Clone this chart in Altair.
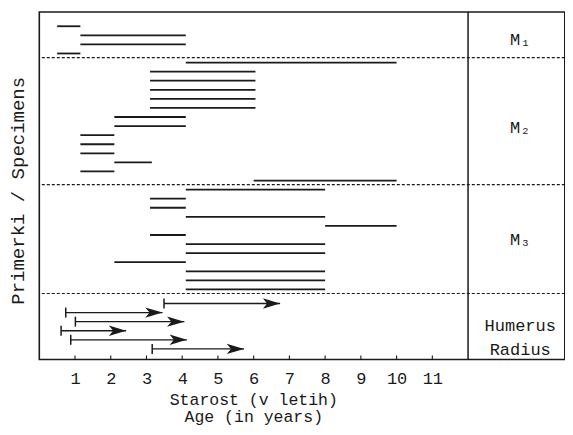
import altair as alt
import pandas as pd

# ---- data (ages in years) ----
m1_start = [0.5, 1.15, 1.15, 0.5]
m1_end = [1.15, 4.1, 4.1, 1.15]
m2_start = [4.1, 3.1, 3.1, 3.1, 3.1, 3.1, 2.1, 2.1, 1.15, 1.15, 1.15, 2.1, 1.15, 6.0]
m2_end = [10.0, 6.05, 6.05, 6.05, 6.05, 6.05, 4.1, 4.1, 2.1, 2.1, 2.1, 3.15, 2.1, 10.0]
m3_start = [4.1, 3.1, 3.1, 4.1, 8.0, 3.1, 4.1, 4.1, 2.1, 4.1, 4.1, 4.1]
m3_end = [8.0, 4.1, 4.1, 8.0, 10.0, 4.1, 8.0, 8.0, 4.1, 8.0, 8.0, 8.0]
bone_start = [3.49, 0.74, 1.01, 0.61, 0.88, 3.16]
bone_min_age = [6.74, 3.45, 4.06, 2.43, 4.13, 5.73]
group_labels = ["M\u2081", "M\u2082", "M\u2083", "Humerus\nRadius"]
tick_values = list(range(1, 12))
x_title = ["Starost (v letih)", "Age (in years)"]
y_title = "Primerki / Specimens"

# ---- layout ----
FONT = "Liberation Mono"
INK = "#1a1a1a"
PX_PER_YEAR = 35.73
W, H = 525.5, 347.5
X_MAX = W / PX_PER_YEAR
PANEL = 12
LABEL_X = 13.46
ARROW_GAP = 0.55
LABEL_SHIFT = [0.0, 0.75, 0.0, -0.05]

seg_rows, sep_rows, lab_rows = [], [], []
r = 0
for gi, (s_list, e_list) in enumerate([(m1_start, m1_end), (m2_start, m2_end), (m3_start, m3_end)]):
    first = r
    for s, e in zip(s_list, e_list):
        seg_rows.append({"row": r, "start": s, "end": e})
        r += 1
    sep_rows.append({"sep": r - 1 + 0.45})
    lab_rows.append({"lab": group_labels[gi], "row": (first + r - 1) / 2 + LABEL_SHIFT[gi],
                     "lx": LABEL_X})
arrow_rows = []
base = r + ARROW_GAP
for k, (s, e) in enumerate(zip(bone_start, bone_min_age)):
    arrow_rows.append({"row": base + k, "start": s, "end": e})
lab_rows.append({"lab": group_labels[3], "row": base + (len(bone_start) - 1) / 2 + LABEL_SHIFT[3],
                 "lx": LABEL_X})

seg_df = pd.DataFrame(seg_rows)
arrow_df = pd.DataFrame(arrow_rows)
sep_df = pd.DataFrame(sep_rows)
lab_df = pd.DataFrame(lab_rows)
tick_df = pd.DataFrame({"t": tick_values})
panel_df = pd.DataFrame({"v": [PANEL]})

xscale = alt.Scale(domain=[0, X_MAX], nice=False, zero=False)
yscale = alt.Scale(domain=[-1.57, 36.72], nice=False, zero=False, reverse=True)
xaxis = alt.Axis(values=tick_values, grid=False, domain=False, ticks=False, tickSize=0,
                 labelFont=FONT, labelFontSize=17, labelColor=INK, labelPadding=23.8,
                 labelBaseline="alphabetic", labelOverlap=False, labelFlush=False,
                 titleFont=FONT, titleFontSize=16.5, titleFontWeight="normal", titleColor=INK,
                 titleLineHeight=17.3, titleX=214, titleY=45, titleBaseline="alphabetic",
                 titleAlign="center")
yaxis = alt.Axis(labels=False, ticks=False, domain=False, grid=False,
                 titleFont=FONT, titleFontSize=19, titleFontWeight="normal", titleColor=INK,
                 titleX=-16, titleY=178.3, titleBaseline="alphabetic", titleAlign="center",
                 titleAngle=270)


def X(f):
    return alt.X(f, type="quantitative", scale=xscale, axis=xaxis, title=x_title)


def Y(f):
    return alt.Y(f, type="quantitative", scale=yscale, axis=yaxis, title=y_title)


segments = alt.Chart(seg_df).mark_rule(strokeWidth=1.8, color=INK).encode(
    x=X("start"), x2="end", y=Y("row"))

separators = alt.Chart(sep_df).mark_rule(strokeDash=[3, 2], strokeWidth=1.2, color=INK).encode(
    y=Y("sep"))

panel_line = alt.Chart(panel_df).mark_rule(strokeWidth=1.5, color=INK).encode(x=X("v"))

inner_ticks = alt.Chart(tick_df).mark_rule(strokeWidth=1.1, color=INK).encode(
    x=X("t"), y=alt.value(H), y2=alt.value(H - 4))

shafts = alt.Chart(arrow_df).mark_rule(strokeWidth=1.3, color=INK).encode(
    x=X("start"), x2="end", y=Y("row"))

start_bars = alt.Chart(arrow_df).mark_rule(strokeWidth=1.5, color=INK, yOffset=-5, y2Offset=5).encode(
    x=X("start"), y=Y("row"), y2="row")

heads = alt.Chart(arrow_df).mark_point(
    shape="M0,0 L-2,-0.6 L-1.5,0 L-2,0.6 Z", filled=True, size=300, opacity=1,
    color=INK, strokeWidth=0).encode(x=X("end"), y=Y("row"))

labels = alt.Chart(lab_df).mark_text(font=FONT, fontSize=17, color=INK, align="center",
                                     baseline="middle", lineBreak="\n", lineHeight=24).encode(
    x=X("lx"), y=Y("row"), text="lab:N")

chart = alt.layer(separators, panel_line, inner_ticks, segments, shafts, start_bars, heads, labels).properties(
    width=W, height=H,
    autosize=alt.AutoSizeParams(type="none"),
    padding={"left": 31.3, "top": 4, "right": 0, "bottom": 67.5},
    background="white",
).configure_view(stroke=INK, strokeWidth=1.6)

chart.save("out.html", embed_options={"renderer": "svg", "actions": False})
